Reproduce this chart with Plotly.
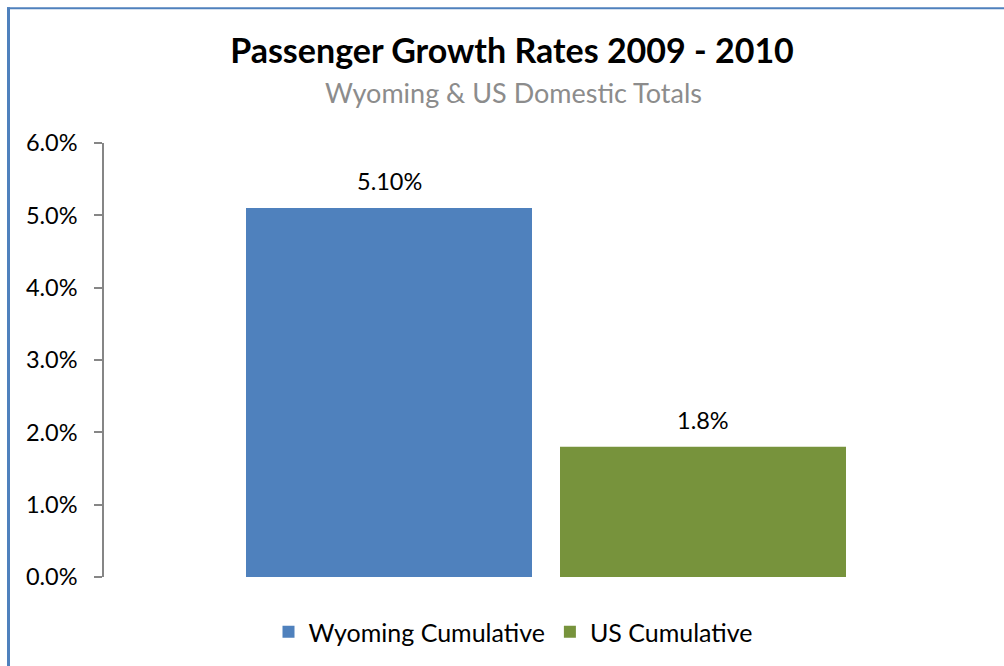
import plotly.graph_objects as go

series_names = ["Wyoming Cumulative", "US Cumulative"]
values = [0.051, 0.018]
label_texts = ["5.10%", "1.8%"]
colors = ["#4F81BD", "#77933C"]
tick_vals = [0, 0.01, 0.02, 0.03, 0.04, 0.05, 0.06]

W, H = 1004, 666
L, R, T, B = 104, 16, 143, 88
pw, ph = W - L - R, H - T - B

def px_x(x):
    return (x - L) / pw

def px_y(y):
    return (H - B - y) / ph

FONT = "Lato"

fig = go.Figure()
for i, (name, v, c) in enumerate(zip(series_names, values, colors)):
    fig.add_trace(go.Bar(
        x=[i], y=[v], name=name, marker_color=c, marker_line_width=0,
        width=0.9108,
    ))

annotations = [
    dict(text=t, x=i, y=v, xref="x", yref="y", showarrow=False,
         xanchor="center", yanchor="middle", yshift=27,
         font=dict(family=FONT, size=23.5, color="#000000"))
    for i, (t, v) in enumerate(zip(label_texts, values))
]
annotations.append(dict(text="Wyoming & US Domestic Totals", xref="paper", yref="paper",
                        x=px_x(513), y=px_y(92), xanchor="center", yanchor="middle",
                        showarrow=False,
                        font=dict(family=FONT, size=27, color="#8C8C8C")))

fig.update_layout(
    width=W, height=H,
    margin=dict(l=L, r=R, t=T, b=B),
    paper_bgcolor="white", plot_bgcolor="white",
    barmode="overlay",
    title=dict(text="<b>Passenger Growth Rates 2009 - 2010</b>",
               font=dict(family=FONT, size=34, color="#000000"),
               x=px_x(512), xanchor="center", xref="paper",
               y=1 - 51 / H, yanchor="middle", yref="container"),
    showlegend=True,
    legend=dict(orientation="h", x=px_x(513), xanchor="center",
                y=px_y(632), yanchor="middle",
                font=dict(family=FONT, size=25, color="#000000"),
                itemwidth=30, traceorder="normal"),
    xaxis=dict(visible=False, showgrid=False, range=[-0.9076, 1.9076]),
    yaxis=dict(range=[0, 0.06], tickvals=tick_vals, tickformat=".1%",
               showgrid=False, zeroline=False,
               showline=True, linecolor="#868686", linewidth=1.5,
               ticks="outside", ticklen=8, tickcolor="#868686", tickwidth=1.5,
               ticklabelstandoff=12,
               tickfont=dict(family=FONT, size=23.5, color="#000000")),
    annotations=annotations,
    shapes=[
        dict(type="line", xref="paper", yref="paper",
             x0=px_x(8.5), x1=px_x(8.5), y0=px_y(7), y1=px_y(H + 5),
             line=dict(color="#4F81BD", width=3)),
        dict(type="line", xref="paper", yref="paper",
             x0=px_x(7), x1=px_x(W + 5), y0=px_y(8), y1=px_y(8),
             line=dict(color="#4F81BD", width=2)),
    ],
)

fig.write_html("out.html")
